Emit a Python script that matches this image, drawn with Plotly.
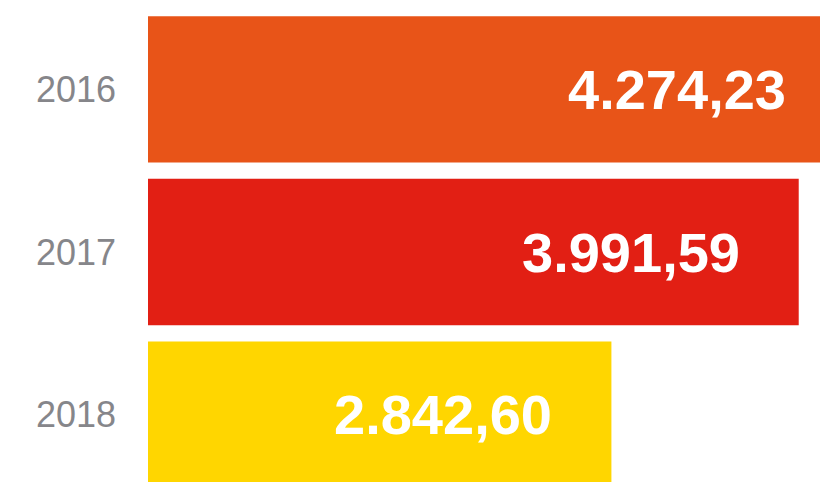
import plotly.graph_objects as go

years = ["2016", "2017", "2018"]
values = [4274.23, 3991.59, 2842.60]
colors = ["#E85418", "#E21F14", "#FFD600"]


def fmt_de(v):
    return f"{v:,.2f}".replace(",", "X").replace(".", ",").replace("X", ".")


labels = [fmt_de(v) for v in values]

fig = go.Figure(
    go.Bar(
        x=values,
        y=years,
        orientation="h",
        marker=dict(color=colors, line=dict(width=0)),
        hoverinfo="skip",
    )
)

for i, (v, lab) in enumerate(zip(values, labels)):
    fig.add_annotation(
        x=v, y=i, xref="x", yref="y",
        text=lab, showarrow=False,
        xanchor="right", yanchor="middle",
        xshift=-57, yshift=0,
        font=dict(family="Liberation Sans, Arial, sans-serif", size=56,
                  color="white", weight="bold"),
    )

fig.update_layout(
    width=849, height=496,
    margin=dict(l=148, r=0, t=8, b=0),
    paper_bgcolor="white", plot_bgcolor="white",
    bargap=0.1,
    showlegend=False,
    hovermode=False,
    xaxis=dict(range=[0, 4300], visible=False, showgrid=False, zeroline=False),
    yaxis=dict(
        type="category", range=[2.5, -0.5],
        showgrid=False, zeroline=False, showline=False,
        ticks="", ticklabelstandoff=31,
        tickfont=dict(family="Liberation Sans, Arial, sans-serif", size=36, color="#86868a"),
    ),
)

fig.write_html(
    "out.html",
    config={"displayModeBar": False, "staticPlot": True},
    post_script=(
        "document.body.style.margin='0';"
        "document.body.style.overflow='hidden';"
        "document.documentElement.style.overflow='hidden';"
    ),
)
